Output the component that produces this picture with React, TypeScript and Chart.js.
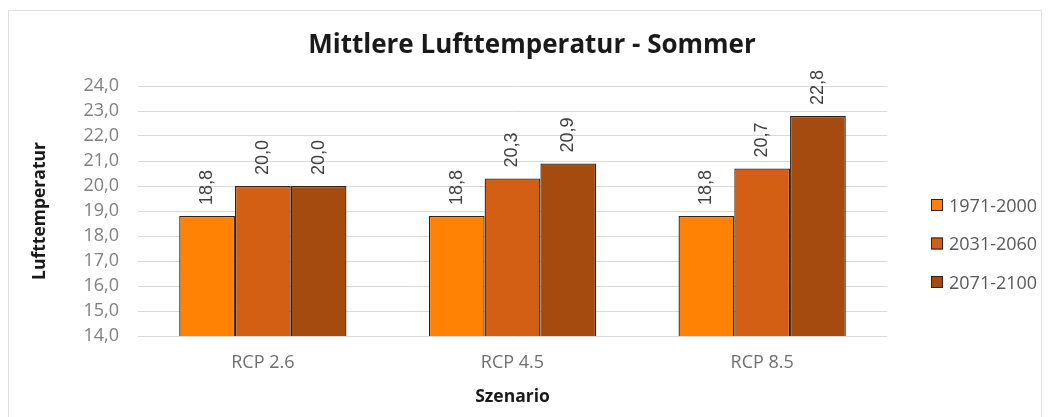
import React, { useEffect, useRef } from "react";
import { Chart, registerables } from "chart.js";

Chart.register(...registerables);

const categories = ["RCP 2.6", "RCP 4.5", "RCP 8.5"];
const seriesNames = ["1971-2000", "2031-2060", "2071-2100"];
const series1971 = [18.8, 18.8, 18.8];
const series2031 = [20.0, 20.3, 20.7];
const series2071 = [20.0, 20.9, 22.8];
const seriesColors = ["#FF8205", "#D25F14", "#A54B10"];
const yMin = 14;
const yMax = 24;
const yStep = 1;

const FONT = "'Open Sans', 'Noto Sans', sans-serif";
const LABEL_FONT = "'Liberation Sans', Arial, sans-serif";
const fmt = (v: number) => v.toFixed(1).replace(".", ",");

const valueLabels = {
  id: "valueLabels",
  afterDatasetsDraw(chart: any) {
    const ctx = chart.ctx;
    ctx.save();
    ctx.font = `18px ${LABEL_FONT}`;
    ctx.fillStyle = "#404040";
    ctx.textAlign = "left";
    ctx.textBaseline = "middle";
    chart.data.datasets.forEach((ds: any, di: number) => {
      const meta = chart.getDatasetMeta(di);
      meta.data.forEach((bar: any, i: number) => {
        ctx.save();
        ctx.translate(bar.x, bar.y - 11);
        ctx.rotate(-Math.PI / 2);
        ctx.fillText(fmt(ds.data[i]), 0, 0);
        ctx.restore();
      });
    });
    ctx.restore();
  },
};

const sideLegend = {
  id: "sideLegend",
  afterDraw(chart: any) {
    const ctx = chart.ctx;
    const area = chart.chartArea;
    const x0 = area.right + 44;
    const yCenter = (area.top + area.bottom) / 2 + 33;
    const spacing = 38.5;
    ctx.save();
    ctx.font = `18px ${FONT}`;
    ctx.textBaseline = "middle";
    ctx.textAlign = "left";
    chart.data.datasets.forEach((ds: any, i: number) => {
      const y = yCenter + (i - 1) * spacing;
      ctx.fillStyle = ds.backgroundColor;
      ctx.fillRect(x0, y - 6.5, 12, 12);
      ctx.strokeStyle = "#2e2218";
      ctx.lineWidth = 1;
      ctx.strokeRect(x0 + 0.5, y - 6, 11, 11);
      ctx.fillStyle = "#595959";
      ctx.fillText(ds.label, x0 + 18, y + 1);
    });
    ctx.restore();
  },
};

const centerTitle = {
  id: "centerTitle",
  afterLayout(chart: any) {
    const t = chart.titleBlock;
    if (t) {
      t.left = 0;
      t.right = 1046;
    }
  },
};

export default function App() {
  const ref = useRef<HTMLCanvasElement>(null);
  useEffect(() => {
    if (!ref.current) return;
    const dataArrays = [series1971, series2031, series2071];
    const chart = new Chart(ref.current, {
      type: "bar",
      data: {
        labels: categories,
        datasets: seriesNames.map((name, i) => ({
          label: name,
          data: dataArrays[i],
          backgroundColor: seriesColors[i],
          borderColor: "#2e2218",
          borderWidth: 1.3,
          borderSkipped: false,
          categoryPercentage: 0.67,
          barPercentage: 1,
        })),
      },
      options: {
        animation: false,
        responsive: true,
        maintainAspectRatio: false,
        layout: { padding: { left: 0, right: 154, top: 0, bottom: 0 } },
        plugins: {
          legend: { display: false },
          tooltip: { enabled: false },
          title: {
            display: true,
            text: "Mittlere Lufttemperatur - Sommer",
            color: "#1a1a1a",
            font: { family: FONT, size: 26, weight: "bold" },
            padding: { top: 19.4, bottom: 24.4 },
          },
        },
        scales: {
          x: {
            afterFit: (scale: any) => {
              scale.height = 93;
            },
            grid: { display: false, drawTicks: false },
            border: { display: false },
            ticks: { color: "#6f6f6f", font: { family: FONT, size: 18 }, padding: 16 },
            title: {
              display: true,
              text: "Szenario",
              color: "#1a1a1a",
              font: { family: FONT, size: 17.5, weight: "bold" },
              padding: { top: 0, bottom: 21.5 },
            },
          },
          y: {
            min: yMin,
            max: yMax,
            afterFit: (scale: any) => {
              scale.width = 129;
            },
            grid: { color: "#d9d9d9", drawTicks: false },
            border: { display: false },
            ticks: {
              stepSize: yStep,
              color: "#7f7f7f",
              font: { family: FONT, size: 18 },
              padding: 19,
              callback: (v: any) => fmt(Number(v)),
            },
            title: {
              display: true,
              text: "Lufttemperatur",
              color: "#1a1a1a",
              font: { family: FONT, size: 17.5, weight: "bold" },
              padding: { top: 20.5, bottom: 0 },
            },
          },
        },
      },
      plugins: [valueLabels, sideLegend, centerTitle],
    });
    return () => chart.destroy();
  }, []);

  return (
    <div style={{ paddingTop: 2 }}>
      <div
        style={{
          width: 1034,
          height: 420,
          border: "1px solid #e0e0e0",
          background: "#fff",
          boxSizing: "border-box",
        }}
      >
        <div style={{ position: "relative", width: 1032, height: 418 }}>
          <canvas ref={ref} />
        </div>
      </div>
    </div>
  );
}
